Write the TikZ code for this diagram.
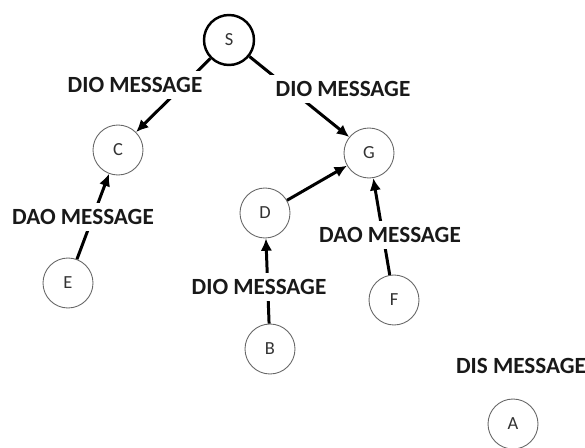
\documentclass[tikz,border=0pt]{standalone}
\usepackage{fontspec}
\setmainfont{Carlito}
\usetikzlibrary{arrows.meta}

\begin{document}
\begin{tikzpicture}[
        mote/.style={circle, draw=black!60, line width=0.5pt, fill=white, minimum size=1cm, inner sep=0pt, text=black!80, font=\fontsize{10.5}{12}\selectfont},
        root/.style={mote, draw=black, line width=1.4pt},
        msg/.style={fill=white, inner sep=3.5pt, text=black!90, font=\fontsize{13.2}{15}\selectfont\bfseries},
        link/.style={line width=1.7pt, -{Latex[length=7pt,width=6.5pt]}}
    ]
                \useasboundingbox (0,0) rectangle (11.7,8.94);

                \node[root] (S) at (4.58,8.14) {S};

                \node[mote] (C) at (2.36,5.94) {C};
                \node[mote] (G) at (7.38,5.88) {G};

                \node[mote] (D) at (5.30,4.68) {D};
                \node[mote] (E) at (1.36,3.28) {E};
                \node[mote] (F) at (7.88,2.94) {F};
                \node[mote] (B) at (5.40,1.96) {B};

                \node[mote] (A) at (10.26,0.46) {A};

                \draw[link] (S) -- (C);
                \draw[link] (S) -- (G);
                \draw[link] (E) -- (C);
                \draw[link] (D) -- (G);
                \draw[link] (F) -- (G);
                \draw[link] (B) -- (D);

                \node[msg] (dioC) at (2.70,7.24) {DIO MESSAGE};
                \node[msg] (dioG) at (6.86,7.16) {DIO MESSAGE};
                \node[msg] (daoE) at (1.66,4.60) {DAO MESSAGE};
                \node[msg] (daoF) at (7.80,4.24) {DAO MESSAGE};
                \node[msg] (dioB) at (5.18,3.20) {DIO MESSAGE};
                \node[msg] (disA) at (10.42,1.62) {DIS MESSAGE};
            \end{tikzpicture}
\end{document}
